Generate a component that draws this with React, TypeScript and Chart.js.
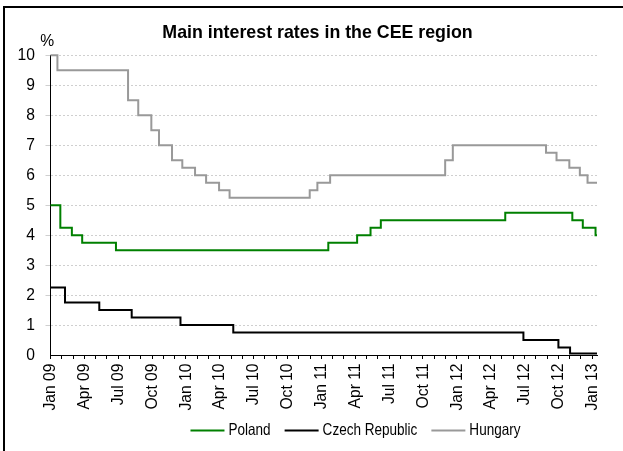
import React, { useEffect, useRef } from 'react';
import { Chart, registerables } from 'chart.js';

Chart.register(...registerables);

// ---- chart content -------------------------------------------------------

const TITLE = 'Main interest rates in the CEE region';
const UNIT_LABEL = '%';

const SERIES_NAMES = ['Poland', 'Czech Republic', 'Hungary'];
const SERIES_COLORS = ['#008000', '#000000', '#999999'];

// Policy-rate decisions: date the new rate took effect and the rate (%)
const POLAND_DATES = [
  '2009-01-01', '2009-01-28', '2009-02-26', '2009-03-26', '2009-06-25',
  '2011-01-20', '2011-04-06', '2011-05-12', '2011-06-09', '2012-05-10',
  '2012-11-08', '2012-12-06', '2013-01-10',
];
const POLAND_RATES = [5.0, 4.25, 4.0, 3.75, 3.5, 3.75, 4.0, 4.25, 4.5, 4.75, 4.5, 4.25, 4.0];

const CZECH_DATES = [
  '2009-01-01', '2009-02-09', '2009-05-11', '2009-08-07', '2009-12-17',
  '2010-05-07', '2012-06-28', '2012-10-01', '2012-11-02',
];
const CZECH_RATES = [2.25, 1.75, 1.5, 1.25, 1.0, 0.75, 0.5, 0.25, 0.05];

const HUNGARY_DATES = [
  '2009-01-01', '2009-01-20', '2009-07-28', '2009-08-25', '2009-09-29',
  '2009-10-20', '2009-11-24', '2009-12-22', '2010-01-26', '2010-02-23',
  '2010-03-30', '2010-04-27', '2010-11-30', '2010-12-21', '2011-01-25',
  '2011-11-30', '2011-12-21', '2012-08-29', '2012-09-26', '2012-10-31',
  '2012-11-28', '2012-12-19',
];
const HUNGARY_RATES = [
  10.0, 9.5, 8.5, 8.0, 7.5, 7.0, 6.5, 6.25, 6.0, 5.75, 5.5, 5.25, 5.5, 5.75,
  6.0, 6.5, 7.0, 6.75, 6.5, 6.25, 6.0, 5.75,
];

const START_YEAR = 2009;
const END_DATE = '2013-01-14';

// Quarterly labels; minor ticks fall on every month in between
const TICK_LABELS = [
  'Jan 09', 'Apr 09', 'Jul 09', 'Oct 09',
  'Jan 10', 'Apr 10', 'Jul 10', 'Oct 10',
  'Jan 11', 'Apr 11', 'Jul 11', 'Oct 11',
  'Jan 12', 'Apr 12', 'Jul 12', 'Oct 12',
  'Jan 13',
];
const MONTHS_PER_LABEL = 3;

const Y_MIN = 0;
const Y_MAX = 10;
const Y_STEP = 1;

// ---- styling -------------------------------------------------------------

const SANS = '"Liberation Sans", Arial, sans-serif';
const LEGEND_CENTER_X = 355.5;
const LEGEND_SQUEEZE = 0.82;
const AXIS_SQUEEZE = 0.92;

// Months elapsed since 1 Jan of START_YEAR (fractional within the month)
function monthIndex(iso: string): number {
  const [y, m, d] = iso.split('-').map(Number);
  const daysInMonth = new Date(Date.UTC(y, m, 0)).getUTCDate();
  return (y - START_YEAR) * 12 + (m - 1) + (d - 1) / daysInMonth;
}

// Each rate holds until the next decision, and the last one until END_DATE
function toSteps(dates: string[], rates: number[]) {
  const pts = dates.map((d, i) => ({ x: monthIndex(d), y: rates[i] }));
  pts.push({ x: monthIndex(END_DATE), y: rates[rates.length - 1] });
  return pts;
}

// Condensed text: squeeze the context along the text direction
function fillNarrow(
  ctx: CanvasRenderingContext2D,
  text: string,
  x: number,
  y: number,
  squeeze: number,
  angle = 0,
) {
  ctx.save();
  ctx.translate(x, y);
  if (angle) ctx.rotate(angle);
  ctx.scale(squeeze, 1);
  ctx.fillText(text, 0, 0);
  ctx.restore();
}

const unitLabelPlugin = {
  id: 'unitLabel',
  afterDraw(chart: any) {
    const { ctx, chartArea } = chart;
    ctx.save();
    ctx.font = `17px ${SANS}`;
    ctx.fillStyle = '#000';
    ctx.textAlign = 'center';
    ctx.textBaseline = 'middle';
    fillNarrow(ctx, UNIT_LABEL, chartArea.left - 3.2, chartArea.top - 14.5, AXIS_SQUEEZE);
    ctx.restore();
  },
};

// Axis tick labels in a condensed face, placed through the chart's own scales
const tickLabelPlugin = {
  id: 'tickLabels',
  afterDraw(chart: any) {
    const { ctx, chartArea, scales } = chart;
    ctx.save();
    ctx.fillStyle = '#000';
    ctx.font = `17px ${SANS}`;
    ctx.textAlign = 'right';
    ctx.textBaseline = 'middle';
    scales.y.ticks.forEach((t: any) => {
      const py = scales.y.getPixelForValue(t.value);
      fillNarrow(ctx, String(t.value), chartArea.left - 15.5, py, AXIS_SQUEEZE);
    });
    scales.x.ticks.forEach((t: any) => {
      const m = Math.round(t.value);
      if (m % MONTHS_PER_LABEL !== 0) return;
      const label = TICK_LABELS[m / MONTHS_PER_LABEL];
      if (!label) return;
      const px = scales.x.getPixelForValue(t.value);
      fillNarrow(ctx, label, px, chartArea.bottom + 8.5, AXIS_SQUEEZE, -Math.PI / 2);
    });
    ctx.restore();
  },
};

const lineLegendPlugin = {
  id: 'lineLegend',
  afterDraw(chart: any) {
    const ctx = chart.ctx;
    const lineLength = 34;
    const textGap = 4;
    const itemGap = 14;
    ctx.save();
    ctx.font = `16.5px ${SANS}`;
    ctx.textBaseline = 'middle';
    ctx.textAlign = 'left';
    const widths = SERIES_NAMES.map(
      (n) => lineLength + textGap + ctx.measureText(n).width * LEGEND_SQUEEZE,
    );
    const total = widths.reduce((a, b) => a + b, 0) + itemGap * (widths.length - 1);
    let x = LEGEND_CENTER_X - total / 2;
    const y = chart.height - 20.5;
    SERIES_NAMES.forEach((name, i) => {
      ctx.strokeStyle = SERIES_COLORS[i];
      ctx.lineWidth = 2;
      ctx.beginPath();
      ctx.moveTo(x, y);
      ctx.lineTo(x + lineLength, y);
      ctx.stroke();
      ctx.fillStyle = '#000';
      fillNarrow(ctx, name, x + lineLength + textGap, y, LEGEND_SQUEEZE);
      x += widths[i] + itemGap;
    });
    ctx.restore();
  },
};

export default function App() {
  const canvasRef = useRef<HTMLCanvasElement | null>(null);

  useEffect(() => {
    if (!canvasRef.current) return;
    const series = [
      toSteps(POLAND_DATES, POLAND_RATES),
      toSteps(CZECH_DATES, CZECH_RATES),
      toSteps(HUNGARY_DATES, HUNGARY_RATES),
    ];
    const monthTicks: number[] = [];
    for (let m = 0; m <= (TICK_LABELS.length - 1) * MONTHS_PER_LABEL; m++) monthTicks.push(m);

    const chart = new Chart(canvasRef.current, {
      type: 'line',
      data: {
        datasets: SERIES_NAMES.map((name, i) => ({
          label: name,
          data: series[i],
          borderColor: SERIES_COLORS[i],
          backgroundColor: SERIES_COLORS[i],
          borderWidth: 2,
          pointRadius: 0,
          stepped: 'before' as const,
          fill: false,
          clip: false as any,
          borderCapStyle: 'butt' as const,
          borderJoinStyle: 'miter' as const,
          yAxisID: 'y',
        })),
      },
      options: {
        responsive: false,
        animation: false,
        devicePixelRatio: 1,
        parsing: false,
        layout: { padding: { left: 12, right: 0, top: 10, bottom: 38 } },
        plugins: {
          legend: { display: false },
          tooltip: { enabled: false },
          title: {
            display: true,
            text: TITLE,
            color: '#000',
            font: { family: SANS, size: 17.8, weight: 'bold', lineHeight: 1.2 },
            padding: { top: 12, bottom: 12 },
          },
        },
        scales: {
          x: {
            type: 'linear',
            min: 0,
            max: monthIndex(END_DATE),
            afterBuildTicks: (scale: any) => {
              scale.ticks = monthTicks.map((v) => ({ value: v }));
            },
            afterFit: (scale: any) => {
              scale.height = 58;
              scale.paddingLeft = 0;
              scale.paddingRight = 0;
            },
            ticks: { display: false, autoSkip: false },
            grid: {
              display: true,
              drawOnChartArea: false,
              drawTicks: true,
              tickLength: 4,
              color: '#000',
            },
            border: { display: true, color: '#000', width: 1 },
          },
          y: {
            type: 'linear',
            position: 'left',
            min: Y_MIN,
            max: Y_MAX,
            afterFit: (scale: any) => {
              scale.width = 38.5;
            },
            ticks: { display: false, stepSize: Y_STEP },
            grid: {
              color: (c: any) => (c.tick && c.tick.value === 0 ? 'rgba(0,0,0,0)' : '#cfcfcf'),
              lineWidth: 1,
              drawTicks: true,
              tickLength: 5,
            },
            border: { display: true, color: '#000', width: 1, dash: [2, 2] },
          },
          // empty right-hand gutter between the plot and the frame edge
          gutter: {
            type: 'linear',
            position: 'right',
            display: true,
            min: Y_MIN,
            max: Y_MAX,
            ticks: { display: false },
            grid: { display: false, drawTicks: false },
            border: { display: false },
            afterFit: (scale: any) => {
              scale.width = 26;
            },
          },
        },
      },
      plugins: [unitLabelPlugin, tickLabelPlugin, lineLegendPlugin],
    } as any);

    return () => chart.destroy();
  }, []);

  return (
    <div
      style={{
        position: 'fixed',
        left: 0,
        top: 0,
        width: 623,
        height: 451,
        overflow: 'hidden',
        background: '#fff',
      }}
    >
      <div
        style={{
          position: 'absolute',
          left: 3,
          top: 6,
          width: 700,
          height: 500,
          borderTop: '2px solid #000',
          borderLeft: '2px solid #000',
        }}
      />
      <canvas
        ref={canvasRef}
        width={623}
        height={451}
        style={{ position: 'absolute', left: 0, top: 0, width: 623, height: 451 }}
      />
    </div>
  );
}
